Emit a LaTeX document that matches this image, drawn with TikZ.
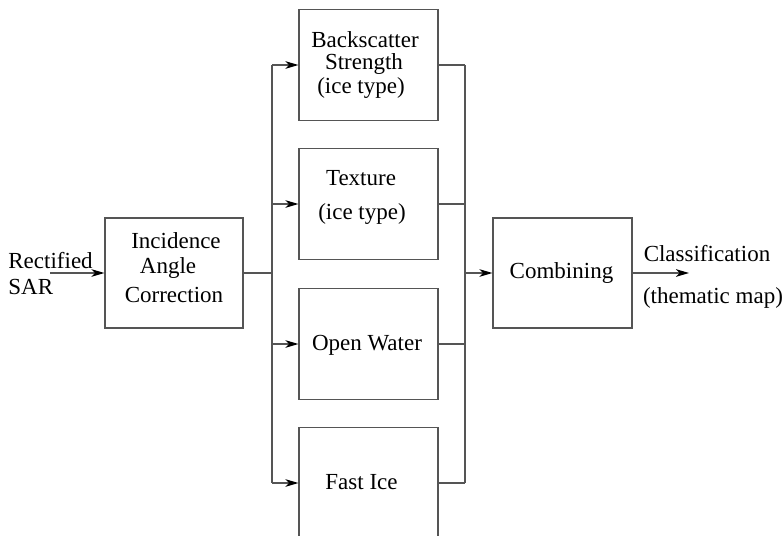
\documentclass[tikz,border=0pt]{standalone}
\usepackage{fontspec}
\setmainfont{Liberation Serif}
\usetikzlibrary{arrows.meta}
\definecolor{linegray}{HTML}{555555}
\tikzset{
  px/.style={x=0.5pt,y=-0.5pt},
  block/.style={draw=linegray,line width=0.6pt,minimum width=69.5pt,minimum height=55.5pt,inner sep=0pt},
  lbl/.style={inner sep=0pt,font=\fontsize{11.5}{13}\selectfont},
  wire/.style={draw=linegray,line width=0.6pt},
  flow/.style={wire,-{Stealth[length=6.5pt,width=3.8pt,inset=1.8pt,black]}}
}
\begin{document}
\begin{tikzpicture}[px]
\useasboundingbox (0,0) rectangle (783,536);
\clip (0,0) rectangle (783,536);
% processing blocks
\node[block,minimum width=69pt,minimum height=55pt] (inc) at (174,273) {};
\node[block] (bs) at (368.5,65) {};
\node[block] (tx) at (368.5,204) {};
\node[block] (ow) at (368.5,344) {};
\node[block] (fi) at (368.5,483) {};
\node[block,minimum height=55pt] (cmb) at (562.5,273) {};
% block labels
\node[lbl] (incA) at (176,241) {Incidence};
\node[lbl] (incB) at (168,268) {Angle};
\node[lbl] (incC) at (174,295) {Correction};
\node[lbl] (bsA) at (365,40) {Backscatter};
\node[lbl] (bsB) at (364,64) {Strength};
\node[lbl] (bsC) at (361,88) {(ice type)};
\node[lbl] (txA) at (361,178) {Texture};
\node[lbl] (txB) at (362,214) {(ice type)};
\node[lbl] (owA) at (367,345) {Open Water};
\node[lbl] (fiA) at (361.5,482) {Fast Ice};
\node[lbl] (cmbA) at (561.5,273) {Combining};
% input and output texts
\node[lbl,anchor=west] (inA) at (8,261) {Rectified};
\node[lbl,anchor=west] (inB) at (8,287) {SAR};
\node[lbl] (outA) at (707,254) {Classification};
\node[lbl] (outB) at (713,298) {(thematic map)};
% connector end points
\coordinate (src) at (50,273);
\coordinate (split) at (272,273);
\coordinate (join) at (465,273);
\coordinate (dst) at (689,273);
% input
\draw[flow] (src) -- (inc.west);
% fan-out bus
\draw[wire] (inc.east) -- (split);
\draw[wire] (split |- bs.west) -- (split |- fi.west);
\draw[flow] (split |- bs.west) -- (bs.west);
\draw[flow] (split |- tx.west) -- (tx.west);
\draw[flow] (split |- ow.west) -- (ow.west);
\draw[flow] (split |- fi.west) -- (fi.west);
% fan-in bus
\draw[wire] (bs.east) -- (join |- bs.east);
\draw[wire] (tx.east) -- (join |- tx.east);
\draw[wire] (ow.east) -- (join |- ow.east);
\draw[wire] (fi.east) -- (join |- fi.east);
\draw[wire] (join |- bs.east) -- (join |- fi.east);
\draw[flow] (join) -- (cmb.west);
% output
\draw[flow] (cmb.east) -- (dst);
\end{tikzpicture}
\end{document}
